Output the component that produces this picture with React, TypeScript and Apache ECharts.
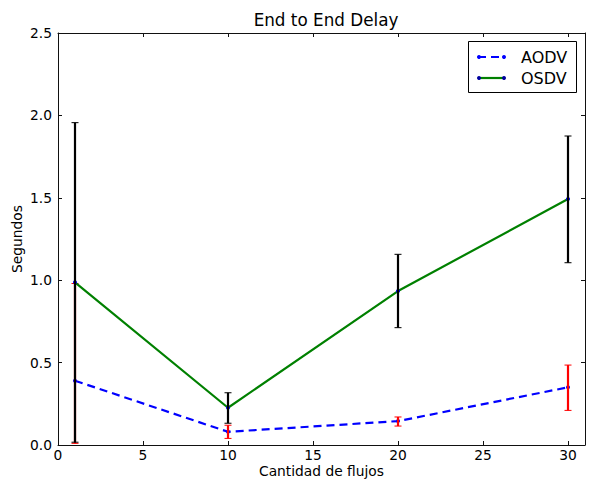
import React, { useEffect, useRef } from "react";
import * as echarts from "echarts";

const flows = [1, 10, 20, 30];
const aodvMean = [0.39, 0.08, 0.145, 0.35];
const aodvLow = [0.01, 0.04, 0.115, 0.21];
const aodvHigh = [0.98, 0.12, 0.17, 0.485];
const osdvMean = [0.987, 0.226, 0.934, 1.493];
const osdvLow = [0.017, 0.132, 0.712, 1.106];
const osdvHigh = [1.956, 0.317, 1.157, 1.875];
const xTicks = [0, 5, 10, 15, 20, 25, 30];
const yTicks = [0, 0.5, 1.0, 1.5, 2.0, 2.5];

const FONT = "DejaVu Sans";
const FS = 13.8;

function errSeries(name: string, low: number[], high: number[], color: string, z: number) {
  return {
    type: "custom",
    name,
    z,
    silent: true,
    data: flows.map((x, i) => [x, low[i], high[i]]),
    renderItem: (params: any, api: any) => {
      const x = api.value(0);
      const lo = api.coord([x, api.value(1)]);
      const hi = api.coord([x, api.value(2)]);
      const cw = 3.5;
      return {
        type: "group",
        children: [
          { type: "line", shape: { x1: lo[0], y1: lo[1], x2: hi[0], y2: hi[1] }, style: { stroke: color, lineWidth: 2.2 } },
          { type: "line", shape: { x1: lo[0] - cw, y1: lo[1], x2: lo[0] + cw, y2: lo[1] }, style: { stroke: color, lineWidth: 1 } },
          { type: "line", shape: { x1: hi[0] - cw, y1: hi[1], x2: hi[0] + cw, y2: hi[1] }, style: { stroke: color, lineWidth: 1 } },
        ],
      };
    },
  };
}

export default function App() {
  const ref = useRef<HTMLDivElement>(null);
  useEffect(() => {
    const chart = echarts.init(ref.current!, null, { renderer: "svg" });
    const axisLine = { show: true, onZero: false, lineStyle: { color: "#111", width: 1 } };
    const tick = { show: true, inside: true, length: 4, lineStyle: { color: "#111", width: 1 } };
    chart.setOption({
      animation: false,
      backgroundColor: "#fff",
      textStyle: { fontFamily: FONT },
      title: {
        text: "End to End Delay",
        left: 321,
        textAlign: "center",
        top: 6,
        textStyle: { fontFamily: FONT, fontSize: 16.8, fontWeight: "normal", color: "#000" },
      },
      grid: { left: 58, top: 33, right: 5, bottom: 34, containLabel: false, outerBoundsMode: "none" },
      xAxis: [
        {
          type: "value",
          min: 0,
          max: 31,
          interval: 5,
          name: "Cantidad de flujos",
          nameLocation: "middle",
          nameGap: 18,
          nameMoveOverlap: false,
          nameTextStyle: { fontFamily: FONT, fontSize: 13.8, lineHeight: 15, color: "#000" },
          axisLine,
          axisTick: { ...tick, customValues: xTicks },
          axisLabel: { customValues: xTicks, fontFamily: FONT, fontSize: FS, color: "#000", margin: 3 },
          splitLine: { show: false },
        },
        {
          type: "value",
          position: "top",
          min: 0,
          max: 31,
          interval: 5,
          axisLine,
          axisTick: { ...tick, customValues: xTicks },
          axisLabel: { show: false },
          splitLine: { show: false },
        },
      ],
      yAxis: [
        {
          type: "value",
          min: 0,
          max: 2.5,
          interval: 0.5,
          name: "Segundos",
          nameLocation: "middle",
          nameGap: 34,
          nameMoveOverlap: false,
          nameTextStyle: { fontFamily: FONT, fontSize: FS, color: "#000" },
          axisLine,
          axisTick: { ...tick, customValues: yTicks },
          axisLabel: {
            customValues: yTicks,
            fontFamily: FONT,
            fontSize: FS,
            color: "#000",
            margin: 6,
            formatter: (v: number) => v.toFixed(1),
          },
          splitLine: { show: false },
        },
        {
          type: "value",
          position: "right",
          min: 0,
          max: 2.5,
          interval: 0.5,
          axisLine,
          axisTick: { ...tick, customValues: yTicks },
          axisLabel: { show: false },
          splitLine: { show: false },
        },
      ],
      series: [
        {
          type: "line",
          name: "AODV",
          z: 2,
          data: flows.map((x, i) => [x, aodvMean[i]]),
          lineStyle: { color: "#0000ff", width: 2.2, type: [8, 5] },
          symbol: "circle",
          symbolSize: 4,
          itemStyle: { color: "#0000ff" },
        },
        errSeries("AODV err", aodvLow, aodvHigh, "#ff0000", 3),
        {
          type: "line",
          name: "OSDV",
          z: 4,
          data: flows.map((x, i) => [x, osdvMean[i]]),
          lineStyle: { color: "#008000", width: 2.2 },
          symbol: "circle",
          symbolSize: 4,
          itemStyle: { color: "#0000ff" },
        },
        errSeries("OSDV err", osdvLow, osdvHigh, "#000000", 5),
      ],
      graphic: [
        {
          type: "rect",
          shape: { x: 468.5, y: 41.5, width: 108, height: 51 },
          style: { fill: "#fff", stroke: "#000", lineWidth: 1 },
          z: 10,
        },
        {
          type: "line",
          shape: { x1: 478, y1: 57, x2: 505, y2: 57 },
          style: { stroke: "#0000ff", lineWidth: 2.2, lineDash: [8, 5] },
          z: 11,
        },
        { type: "circle", shape: { cx: 479, cy: 57, r: 2 }, style: { fill: "#0000ff" }, z: 12 },
        { type: "circle", shape: { cx: 504, cy: 57, r: 2 }, style: { fill: "#0000ff" }, z: 12 },
        {
          type: "text",
          x: 521,
          y: 57,
          style: { text: "AODV", fontFamily: FONT, fontSize: 16, fill: "#000", verticalAlign: "middle" },
          z: 11,
        },
        {
          type: "line",
          shape: { x1: 478, y1: 78, x2: 505, y2: 78 },
          style: { stroke: "#008000", lineWidth: 2.2 },
          z: 11,
        },
        { type: "circle", shape: { cx: 479, cy: 78, r: 2 }, style: { fill: "#0000a0" }, z: 12 },
        { type: "circle", shape: { cx: 504, cy: 78, r: 2 }, style: { fill: "#0000a0" }, z: 12 },
        {
          type: "text",
          x: 521,
          y: 78,
          style: { text: "OSDV", fontFamily: FONT, fontSize: 16, fill: "#000", verticalAlign: "middle" },
          z: 11,
        },
      ],
    });
    return () => chart.dispose();
  }, []);
  return (
    <div
      ref={ref}
      style={{ position: "fixed", left: 0, top: 0, width: 590, height: 479, background: "#fff" }}
    />
  );
}
